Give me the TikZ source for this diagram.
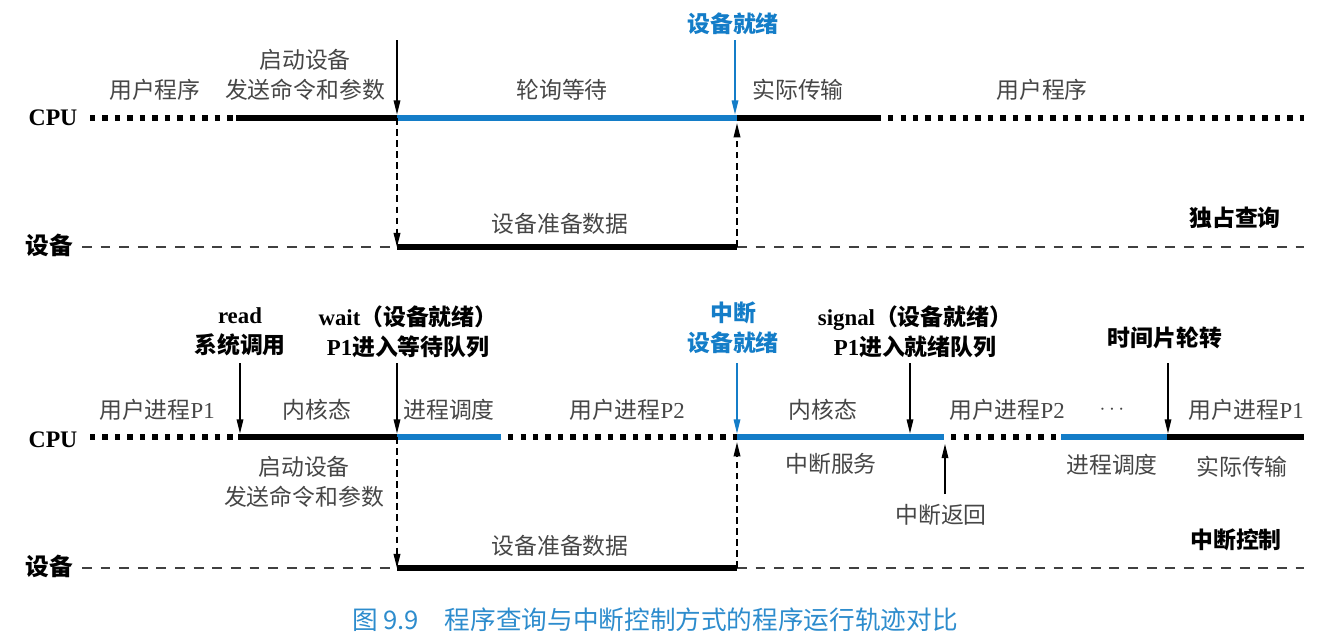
\documentclass[tikz,border=0pt]{standalone}
\usepackage{fontspec}
\setmainfont{Liberation Serif}
\newfontfamily\cjk{Noto Sans CJK SC}
\usetikzlibrary{arrows.meta}

\definecolor{ioblue}{RGB}{20,125,200}
\definecolor{capblue}{RGB}{45,140,205}
\definecolor{labelgray}{RGB}{70,70,70}

\tikzset{
  x=0.02cm, y=-0.02cm,
  every node/.style={inner sep=0pt},
  lbl/.style={text=labelgray, align=center,
    font=\cjk\fontsize{13}{17}\selectfont},
  head/.style={text=black, align=center,
    font=\cjk\bfseries\fontsize{13}{17}\selectfont},
  bluehead/.style={head, text=ioblue},
  axis/.style={text=black, font=\bfseries\fontsize{13.5}{16}\selectfont},
  idle/.style={line width=3.1pt, dash pattern=on 3.1pt off 4pt},
  busy/.style={line width=3.1pt, black},
  iobusy/.style={line width=3.1pt, ioblue},
  devidle/.style={line width=1.2pt, black!75, dash pattern=on 5.6pt off 5pt},
  devbusy/.style={line width=3.1pt, black},
  tip/.style={-{Triangle[length=8pt,width=3.8pt]}},
  event/.style={tip, line width=0.65pt, shorten >=2pt},
  link/.style={tip, line width=0.75pt, dash pattern=on 3.9pt off 2.4pt}
}

\begin{document}
\begin{tikzpicture}
\useasboundingbox (0,0) rectangle (1343,640);

% ---------------- exclusive polling ----------------
\node[axis] (cpuA) at (53,118) {CPU};
\node[axis] (devA) at (49,245) {\cjk 设备};

\coordinate (a0) at (90,118);
\coordinate (a1) at (236,118);
\coordinate (a2) at (397,118);
\coordinate (a3) at (737,118);
\coordinate (a4) at (881,118);
\coordinate (a5) at (1304,118);

\coordinate (ad0) at (82,247);
\coordinate (ad1) at (397,247);
\coordinate (ad2) at (737,247);
\coordinate (ad3) at (1304,247);

\draw[idle] (a0) -- (a1);
\draw[busy] (a1) -- (a2);
\draw[iobusy] (a2) -- (a3);
\draw[busy] (a3) -- (a4);
\draw[idle, shorten <=4pt] (a4) -- (a5);

\draw[devidle] (ad0) -- (ad1);
\draw[devbusy] (ad1) -- (ad2);
\draw[devidle] (ad2) -- (ad3);

\coordinate (sA) at (397,40);
\coordinate (rA) at (735,40);
\draw[event] (sA) -- (a2);
\draw[event, ioblue] (rA) -- (735,118);

\draw[link] (a2) -- (ad1);
\draw[link, shorten >=3pt] (ad2) -- (a3);

\node[bluehead] (readyA) at (733,24) {设备就绪};
\node[lbl] (userA1) at (155,90) {用户程序};
\node[lbl] (startA) at (305,75) {启动设备\\发送命令和参数};
\node[lbl] (pollA) at (562,90) {轮询等待};
\node[lbl] (xferA) at (798,90) {实际传输};
\node[lbl] (userA2) at (1042,90) {用户程序};
\node[lbl] (prepA) at (560,224) {设备准备数据};
\node[head] (modeA) at (1235,218) {独占查询};

% ---------------- interrupt driven ----------------
\node[axis] (cpuB) at (53,440) {CPU};
\node[axis] (devB) at (49,566) {\cjk 设备};

\coordinate (b0) at (90,437);
\coordinate (b1) at (238,437);
\coordinate (b2) at (397,437);
\coordinate (b3) at (501,437);
\coordinate (b4) at (737,437);
\coordinate (b5) at (944,437);
\coordinate (b6) at (1061,437);
\coordinate (b7) at (1167,437);
\coordinate (b8) at (1304,437);

\coordinate (bd0) at (82,568);
\coordinate (bd1) at (397,568);
\coordinate (bd2) at (737,568);
\coordinate (bd3) at (1304,568);

\draw[idle] (b0) -- (b1);
\draw[busy] (b1) -- (b2);
\draw[iobusy] (b2) -- (b3);
\draw[idle, shorten <=4pt] (b3) -- (b4);
\draw[iobusy] (b4) -- (b5);
\draw[idle, shorten <=4pt] (b5) -- (b6);
\draw[iobusy] (b6) -- (b7);
\draw[busy] (b7) -- (b8);

\draw[devidle] (bd0) -- (bd1);
\draw[devbusy] (bd1) -- (bd2);
\draw[devidle] (bd2) -- (bd3);

\coordinate (sB1) at (240,363);
\coordinate (sB2) at (397,363);
\coordinate (sB3) at (737,363);
\coordinate (sB4) at (910,363);
\coordinate (sB5) at (1168,363);
\coordinate (rB) at (945,494);

\draw[event] (sB1) -- (240,437);
\draw[event] (sB2) -- (b2);
\draw[event, ioblue] (sB3) -- (b4);
\draw[event] (sB4) -- (910,437);
\draw[event] (sB5) -- (1168,437);
\draw[event, shorten >=4pt] (rB) -- (945,437);

\draw[link] (b2) -- (bd1);
\draw[link, shorten >=3pt] (bd2) -- (b4);

\node[head] (readB) at (240,332) {{\rmfamily read}\\系统调用};
\node[head] (waitB) at (408,332) {{\rmfamily wait}（设备就绪）\\{\rmfamily P1}进入等待队列};
\node[bluehead] (irqB) at (733,328) {中断\\设备就绪};
\node[head] (sigB) at (915,332) {{\rmfamily signal}（设备就绪）\\{\rmfamily P1}进入就绪队列};
\node[head] (sliceB) at (1165,338) {时间片轮转};

\node[lbl] (u1B) at (157,410) {用户进程{\rmfamily P1}};
\node[lbl] (k1B) at (317,410) {内核态};
\node[lbl] (s1B) at (449,410) {进程调度};
\node[lbl] (u2B) at (627,410) {用户进程{\rmfamily P2}};
\node[lbl] (k2B) at (823,410) {内核态};
\node[lbl] (u3B) at (1007,410) {用户进程{\rmfamily P2}};
\node[lbl] (dotsB) at (1112,410) {$\cdots$};
\node[lbl] (u4B) at (1246,410) {用户进程{\rmfamily P1}};

\node[lbl] (startB) at (304,482) {启动设备\\发送命令和参数};
\node[lbl] (isrB) at (831,464) {中断服务};
\node[lbl] (s2B) at (1112,465) {进程调度};
\node[lbl] (xferB) at (1242,467) {实际传输};
\node[lbl] (retB) at (941,515) {中断返回};
\node[lbl] (prepB) at (560,546) {设备准备数据};
\node[head] (modeB) at (1236,540) {中断控制};

% ---------------- caption ----------------
\node[text=capblue, font=\cjk\fontsize{14.6}{16}\selectfont] (cap) at (655,620)
  {图 9.9\quad 程序查询与中断控制方式的程序运行轨迹对比};
\end{tikzpicture}
\end{document}
